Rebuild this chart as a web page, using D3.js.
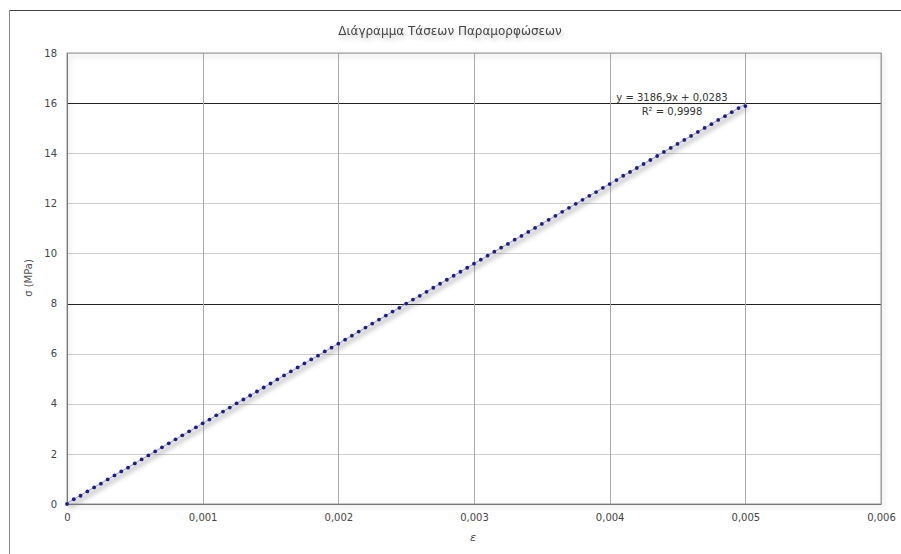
<!DOCTYPE html>
<html>
<head>
<meta charset="utf-8">
<script src="https://cdn.jsdelivr.net/npm/d3@7"></script>
<style>
body{margin:0;background:#fff}
text{font-family:"DejaVu Sans",Verdana,sans-serif}
</style>
</head>
<body>
<script>
var strain=[0,0.00005,0.0001,0.00015,0.0002,0.00025,0.0003,0.00035,0.0004,0.00045,
  0.0005,0.00055,0.0006,0.00065,0.0007,0.00075,0.0008,0.00085,0.0009,0.00095,
  0.001,0.00105,0.0011,0.00115,0.0012,0.00125,0.0013,0.00135,0.0014,0.00145,
  0.0015,0.00155,0.0016,0.00165,0.0017,0.00175,0.0018,0.00185,0.0019,0.00195,
  0.002,0.00205,0.0021,0.00215,0.0022,0.00225,0.0023,0.00235,0.0024,0.00245,
  0.0025,0.00255,0.0026,0.00265,0.0027,0.00275,0.0028,0.00285,0.0029,0.00295,
  0.003,0.00305,0.0031,0.00315,0.0032,0.00325,0.0033,0.00335,0.0034,0.00345,
  0.0035,0.00355,0.0036,0.00365,0.0037,0.00375,0.0038,0.00385,0.0039,0.00395,
  0.004,0.00405,0.0041,0.00415,0.0042,0.00425,0.0043,0.00435,0.0044,0.00445,
  0.0045,0.00455,0.0046,0.00465,0.0047,0.00475,0.0048,0.00485,0.0049,0.00495,0.005]
var stress=[0,0.19,0.33,0.50,0.66,0.81,0.98,1.14,1.30,1.45,
  1.62,1.78,1.94,2.10,2.26,2.42,2.58,2.74,2.90,3.06,
  3.22,3.37,3.54,3.69,3.85,4.02,4.17,4.33,4.49,4.65,
  4.81,4.97,5.13,5.29,5.45,5.61,5.77,5.92,6.09,6.24,
  6.40,6.56,6.72,6.88,7.04,7.20,7.36,7.52,7.68,7.83,
  8.00,8.16,8.31,8.47,8.63,8.79,8.95,9.11,9.27,9.43,
  9.59,9.75,9.91,10.07,10.23,10.38,10.55,10.70,10.86,11.02,
  11.18,11.34,11.50,11.66,11.82,11.98,12.14,12.30,12.45,12.62,
  12.77,12.93,13.10,13.25,13.41,13.57,13.73,13.89,14.05,14.21,
  14.37,14.53,14.69,14.85,15.01,15.16,15.33,15.48,15.64,15.80,15.88]
var xTicks=[0,0.001,0.002,0.003,0.004,0.005,0.006]
var yTicks=[0,2,4,6,8,10,12,14,16,18]
var darkLines=[16,8]
var slope=3186.9, intercept=0.0283
var trendRange=[0,0.005]
var title="Διάγραμμα Τάσεων Παραμορφώσεων"
var eqText="y = 3186,9x + 0,0283"
var r2Text="R² = 0,9998"

var W=901,H=554
var m={left:67,right:20,top:53,bottom:50}
var svg=d3.select("body").append("svg").attr("width",W).attr("height",H)
var defs=svg.append("defs")
var f=defs.append("filter").attr("id","sh").attr("x","-20%").attr("y","-20%").attr("width","140%").attr("height","160%")
f.append("feGaussianBlur").attr("in","SourceAlpha").attr("stdDeviation",2.5).attr("result","b")
f.append("feOffset").attr("dx",2).attr("dy",3).attr("result","o")
f.append("feComponentTransfer").append("feFuncA").attr("type","linear").attr("slope",0.25)
var mg=f.append("feMerge"); mg.append("feMergeNode"); mg.append("feMergeNode").attr("in","SourceGraphic")

var x=d3.scaleLinear().domain([0,0.006]).range([m.left,W-m.right])
var y=d3.scaleLinear().domain([0,18]).range([H-m.bottom,m.top])
var fmt=function(d){return d===0?"0":d3.format(".3f")(d).replace(".",",")}

// outer frame
svg.append("line").attr("x1",9).attr("x2",W).attr("y1",10.5).attr("y2",10.5).attr("stroke","#444").attr("stroke-width",1.2)
svg.append("line").attr("x1",9.5).attr("x2",9.5).attr("y1",10).attr("y2",H).attr("stroke","#888")

svg.append("text").attr("x",450).attr("y",35).attr("text-anchor","middle")
   .attr("font-size",12).attr("fill","#444").attr("filter","url(#sh)").text(title)

// grid
var grid=svg.append("g")
grid.selectAll("line.h").data(yTicks).enter().append("line")
   .attr("x1",x(0)).attr("x2",x(0.006))
   .attr("y1",function(d){return Math.round(y(d))+0.5}).attr("y2",function(d){return Math.round(y(d))+0.5})
   .attr("stroke",function(d){return darkLines.indexOf(d)>=0?"#222":"#ccc"})
   .attr("stroke-width",function(d){return darkLines.indexOf(d)>=0?1.2:1})
grid.selectAll("line.v").data(xTicks).enter().append("line")
   .attr("y1",y(0)).attr("y2",y(18))
   .attr("x1",function(d){return Math.round(x(d))+0.5}).attr("x2",function(d){return Math.round(x(d))+0.5})
   .attr("stroke","#aaa")
svg.append("rect").attr("x",x(0)).attr("y",y(18)).attr("width",x(0.006)-x(0)).attr("height",y(0)-y(18))
   .attr("fill","none").attr("stroke","#999").attr("filter","url(#sh)")

// axes
var xAxis=d3.axisBottom(x).tickValues(xTicks).tickFormat(fmt).tickSize(0).tickPadding(10)
svg.append("g").attr("transform","translate(0,"+y(0)+")").call(xAxis)
   .call(function(g){g.select(".domain").attr("stroke","#777")})
   .selectAll("text").attr("font-size",10).attr("fill","#444").attr("font-family","DejaVu Sans")
var yAxis=d3.axisLeft(y).tickValues(yTicks).tickFormat(d3.format("d")).tickSize(0).tickPadding(10)
svg.append("g").attr("transform","translate("+x(0)+",0)").call(yAxis)
   .call(function(g){g.select(".domain").attr("stroke","#777")})
   .selectAll("text").attr("font-size",10).attr("fill","#444").attr("font-family","DejaVu Sans")

svg.append("text").attr("x",473).attr("y",541).attr("text-anchor","middle").attr("font-size",11)
   .attr("fill","#444").attr("font-style","italic").text("ε")
svg.append("text").attr("transform","translate(32,"+278+") rotate(-90)").attr("text-anchor","middle")
   .attr("font-size",10).attr("fill","#555").text("σ (MPa)")

// trend line shadow + line
var tl=d3.line().x(function(d){return x(d)}).y(function(d){return y(slope*d+intercept)})
svg.append("path").datum(trendRange).attr("d",tl).attr("stroke","#777").attr("stroke-width",5)
   .attr("opacity",0.35).attr("transform","translate(2,3)").attr("fill","none")
   .style("filter","blur(2px)")
svg.append("path").datum(trendRange).attr("d",tl).attr("stroke","#9a9ab8").attr("stroke-width",1).attr("fill","none")

// points
svg.append("g").selectAll("circle").data(strain).enter().append("circle")
   .attr("cx",function(d){return x(d)}).attr("cy",function(d,i){return y(stress[i])})
   .attr("r",1.9).attr("fill","#1c1c8c")

svg.append("text").attr("x",672).attr("y",101).attr("text-anchor","middle").attr("font-size",10)
   .attr("fill","#333").text(eqText)
svg.append("text").attr("x",672).attr("y",115).attr("text-anchor","middle").attr("font-size",10)
   .attr("fill","#333").text(r2Text)
</script>
</body>
</html>
